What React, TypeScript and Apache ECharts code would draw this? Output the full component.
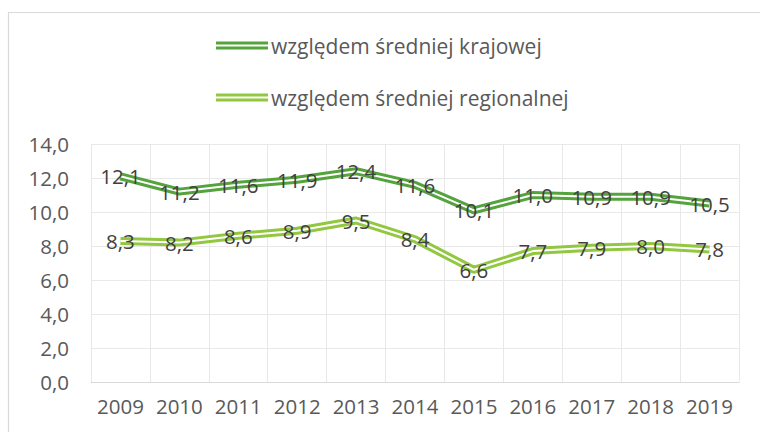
import React, { useEffect, useRef } from "react";
import * as echarts from "echarts";

const years = ["2009", "2010", "2011", "2012", "2013", "2014", "2015", "2016", "2017", "2018", "2019"];
const krajowa = [12.1, 11.2, 11.6, 11.9, 12.4, 11.6, 10.1, 11.0, 10.9, 10.9, 10.5];
const regionalna = [8.3, 8.2, 8.6, 8.9, 9.5, 8.4, 6.6, 7.7, 7.9, 8.0, 7.8];
const nameK = "względem średniej krajowej";
const nameR = "względem średniej regionalnej";

const FONT = "Open Sans";
const fmt = (v: number) => v.toFixed(1).replace(".", ",");

export default function App() {
  const ref = useRef<HTMLDivElement>(null);
  useEffect(() => {
    if (!ref.current) return;
    const chart = echarts.init(ref.current, null, { renderer: "svg" });
    const dark = "#55a33d";
    const light = "#92c740";
    const mk = (name: string, data: number[], color: string) => [
      {
        name,
        type: "line",
        data,
        color,
        symbol: "none",
        lineStyle: { width: 8, color, join: "round" },
        z: 2,
      },
      {
        name: name + "_w",
        type: "line",
        data,
        symbol: "circle",
        symbolSize: 1,
        showSymbol: true,
        itemStyle: { color: "rgba(0,0,0,0)", borderWidth: 0 },
        lineStyle: { width: 2, color: "#ffffff", join: "round" },
        z: 3,
        label: {
          show: true,
          position: "inside",
          formatter: (p: any) => fmt(p.value),
          color: "#404040",
          fontFamily: FONT,
          fontSize: 20.5,
        },
        emphasis: { disabled: true },
      },
    ];
    chart.setOption({
      animation: false,
      textStyle: { fontFamily: FONT },
      graphic: [
        {
          type: "rect",
          shape: { x: 8.5, y: 12.5, width: 1000, height: 1000 },
          style: { fill: "none", stroke: "#d9d9d9", lineWidth: 1.2 },
          silent: true,
        },
      ],
      legend: {
        data: [nameK, nameR],
        orient: "vertical",
        left: 216,
        top: 35,
        padding: 0,
        itemGap: 31,
        itemWidth: 52,
        itemHeight: 8,
        icon: "path://M0,0H52V3H0Z M0,5H52V8H0Z",
        textStyle: { fontFamily: FONT, fontSize: 21, color: "#595959", padding: [0, 0, 0, -2] },
        selectedMode: false,
      },
      grid: { left: 91, right: 21, top: 144, bottom: 50, containLabel: false },
      xAxis: {
        type: "category",
        data: years,
        boundaryGap: true,
        axisLine: { lineStyle: { color: "#d9d9d9", width: 1 } },
        axisTick: { show: false },
        splitLine: { show: true, lineStyle: { color: "#e8e8e8", width: 1 } },
        axisLabel: { color: "#595959", fontFamily: FONT, fontSize: 20.5, margin: 13, interval: 0 },
      },
      yAxis: {
        type: "value",
        min: 0,
        max: 14,
        interval: 2,
        axisLine: { show: false },
        axisTick: { show: false },
        splitLine: { lineStyle: { color: "#e8e8e8", width: 1 } },
        axisLabel: { color: "#595959", fontFamily: FONT, fontSize: 20.5, margin: 22, formatter: (v: number) => fmt(v) },
      },
      series: [...mk(nameK, krajowa, dark), ...mk(nameR, regionalna, light)],
    });
    return () => chart.dispose();
  }, []);
  return <div ref={ref} style={{ position: "absolute", left: 0, top: 0, width: 760, height: 432 }} />;
}
